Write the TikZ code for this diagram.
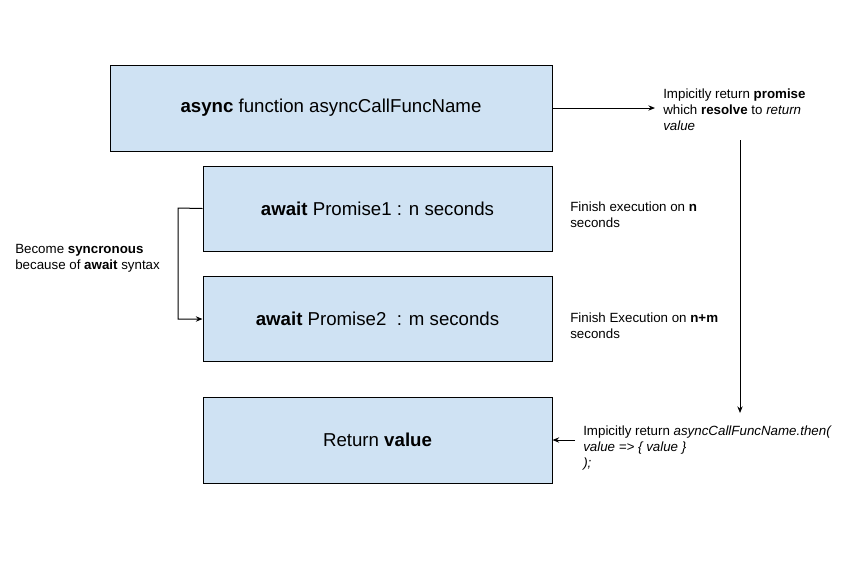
\documentclass[tikz,border=0pt]{standalone}
\usepackage{fontspec}
\setmainfont{Liberation Sans}
\usetikzlibrary{arrows.meta}
\definecolor{boxfill}{HTML}{CFE2F3}
\begin{document}
\begin{tikzpicture}[x=0.75pt,y=-0.75pt,
  box/.style={draw=black,fill=boxfill,line width=0.75pt,inner sep=0pt,
    font=\fontsize{14}{17}\selectfont},
  note/.style={anchor=north west,inner sep=0pt,align=left,
    font=\fontsize{10}{12}\selectfont},
  conn/.style={line width=0.75pt,-{Stealth[length=5pt,width=4pt]}}]
\useasboundingbox (0,0) rectangle (866,562);
\node[box,minimum width=442*0.75pt,minimum height=86*0.75pt] (b1) at (331,108) {\textbf{async} function asyncCallFuncName};
\node[box,minimum width=349*0.75pt,minimum height=85*0.75pt] (b2) at (377.5,208.5) {\textbf{await} Promise1 : n seconds};
\node[box,minimum width=349*0.75pt,minimum height=85*0.75pt] (b3) at (377.5,318.5) {\textbf{await} Promise2\ \ : m seconds};
\node[box,minimum width=349*0.75pt,minimum height=86*0.75pt] (b4) at (377.5,440) {Return \textbf{value}};

\node[note] (t1) at (663,89) {Impicitly return \textbf{promise}\\which \textbf{resolve} to \textit{return}\\\textit{value}};
\node[note] (t2) at (570,202) {Finish execution on \textbf{n}\\seconds};
\node[note] (t3) at (570,313) {Finish Execution on \textbf{n+m}\\seconds};
\node[note] (t4) at (15,244) {Become \textbf{syncronous}\\because of \textbf{await} syntax};
\node[note] (t5) at (583,426) {Impicitly return \textit{asyncCallFuncName.then(}\\\textit{value => \{ value \}}\\\textit{);}};

\coordinate (a1) at (655,108);
\coordinate (v1) at (740,140);
\coordinate (v2) at (740,413);
\coordinate (h1) at (575,440);
\coordinate (l1) at (178,208);
\coordinate (l2) at (178,319);

\draw[conn] (b1.east) -- (a1);
\draw[conn] (v1) -- (v2);
\draw[conn] (h1) -- (b4.east);
\draw[conn] (b2.west) -- (l1) -- (l2) -- (b3.west |- l2);
\end{tikzpicture}
\end{document}
